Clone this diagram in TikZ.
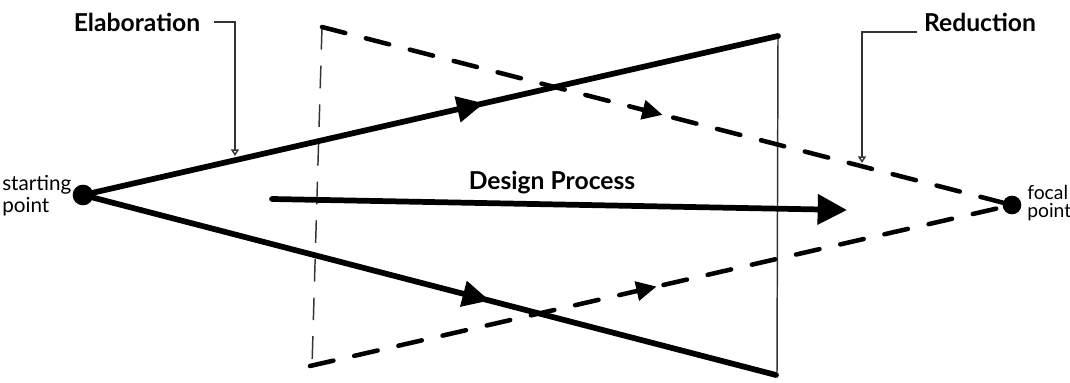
\documentclass[tikz,border=0pt]{standalone}
\usepackage{fontspec}
\setmainfont{Lato}
\usetikzlibrary{arrows.meta,positioning,decorations.markings}

\begin{document}
\begin{tikzpicture}[
    x=0.75pt, y=-0.75pt,
    dot/.style={circle, fill=black, inner sep=0pt, minimum size=#1},
    heavy/.style={line width=4.3pt, line cap=round, line join=round},
    dashy/.style={line width=3.4pt, line cap=round, dash pattern=on 18pt off 16pt},
    thin/.style={line width=1.1pt, draw=black!80},
    callout/.style={thin, -{Triangle[open, length=5pt, width=6pt]}},
    midtip/.style 2 args={postaction={decorate}, decoration={markings,
        mark=at position #1 with {\arrow[solid, line width=1pt]{Triangle[length=#2, width=#2]}}}},
    title/.style={font=\fontsize{18.5}{22}\selectfont\bfseries},
    side/.style={font=\fontsize{15.5}{16.5}\selectfont, align=left, inner sep=0pt}
]
\useasboundingbox (0,0) rectangle (1070,382);

\node[dot=15.5pt] (start) at (83,195) {};
\node[dot=14pt] (focal) at (1012,205) {};
\coordinate (topR) at (778,36);
\coordinate (botR) at (776,375);
\coordinate (topL) at (322,27);
\coordinate (botL) at (310,366);
\coordinate (dpL) at (272,199);
\coordinate (dpR) at (847,210);

\draw[thin] (topR) -- (777,372);
\draw[thin, dash pattern=on 17pt off 12pt] (topL) -- (312,366);

\draw[heavy, midtip={0.57}{20pt}] (start) -- (topR);
\draw[heavy, midtip={0.58}{20pt}] (start) -- (botR);

\draw[dashy, midtip={0.5}{15pt}] (topL) -- (focal);
\draw[dashy, midtip={0.5}{15pt}] (botL) -- (focal);

\draw[heavy, -{Triangle[length=22pt, width=22pt]}] (dpL) -- (dpR);
\node[title] (design) at (552,183) {Design Process};

\node[title] (elab) at (137,22) {Elaboration};
\coordinate (elabtip) at (235,156);
\draw[callout] ([xshift=7pt]elab.east) -| (elabtip);

\node[title] (reduc) at (980,22) {Reduction};
\coordinate (reducbend) at (917,32);
\coordinate (reductip) at (862,163);
\draw[callout] (reducbend) -| (reductip);

\node[side, anchor=west] (startlbl) at (2,196) {starting\\point};
\node[side, anchor=west, font=\fontsize{14.5}{13.5}\selectfont] (focallbl) at (1027,203) {focal\\point};
\end{tikzpicture}
\end{document}
